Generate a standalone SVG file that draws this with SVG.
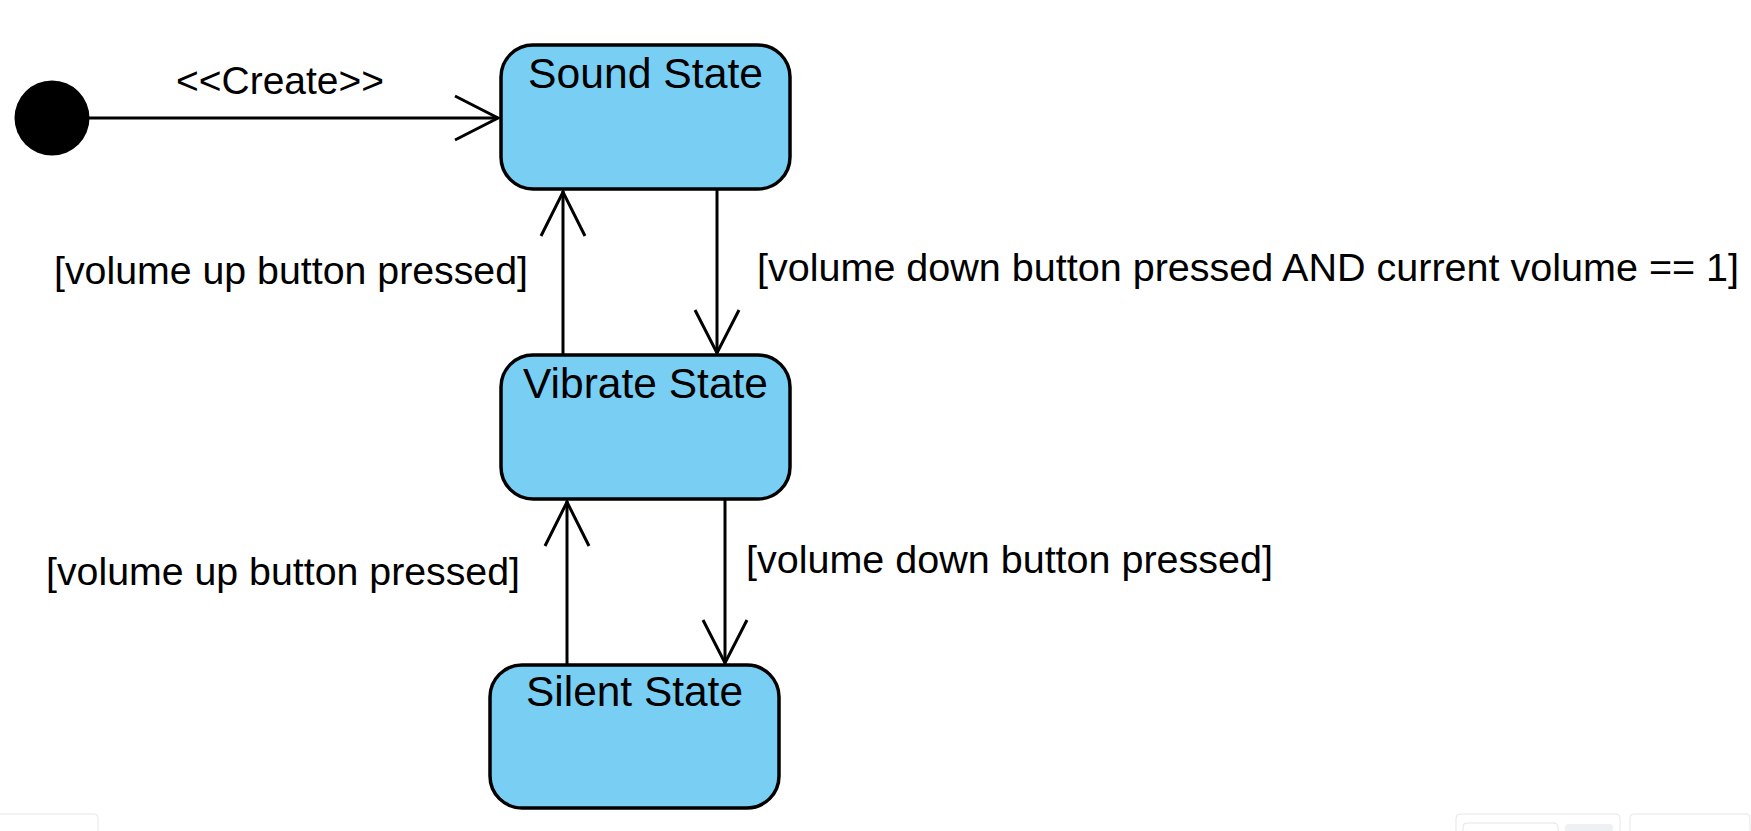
<svg xmlns="http://www.w3.org/2000/svg" width="1751" height="831" viewBox="0 0 1751 831">
<style>
.state{fill:#79CFF3;stroke:#000;stroke-width:3.5}
.name{font-family:"Liberation Sans",Arial,sans-serif;font-size:43px;fill:#000;text-anchor:middle}
.lbl{font-family:"Liberation Sans",Arial,sans-serif;font-size:39px;fill:#000}
.edge{stroke:#000;stroke-width:3;fill:none}
.head{stroke:#000;stroke-width:3;fill:none;stroke-linejoin:miter}
.ui{fill:#fff;stroke:#e6e6e6;stroke-width:1}
</style>
<rect width="1751" height="831" fill="#fff"/>
<g id="initial">
<circle cx="52" cy="118" r="37.5" fill="#000"/>
</g>
<g id="sound">
<rect class="state" x="501" y="45" width="289" height="144" rx="32"/>
<text class="name" x="645.5" y="88" textLength="235" lengthAdjust="spacingAndGlyphs">Sound State</text>
</g>
<g id="vibrate">
<rect class="state" x="501" y="355" width="289" height="144" rx="32"/>
<text class="name" x="645.5" y="398" textLength="245" lengthAdjust="spacingAndGlyphs">Vibrate State</text>
</g>
<g id="silent">
<rect class="state" x="490" y="665" width="289" height="143" rx="32"/>
<text class="name" x="634.5" y="706" textLength="217" lengthAdjust="spacingAndGlyphs">Silent State</text>
</g>
<g id="connectors">
<line class="edge" x1="89" y1="118" x2="498" y2="118"/>
<polyline class="head" points="455,96 498,118 455,140"/>
<text class="lbl" x="176" y="94" textLength="208" lengthAdjust="spacingAndGlyphs">&lt;&lt;Create&gt;&gt;</text>

<line class="edge" x1="717" y1="190" x2="717" y2="353"/>
<polyline class="head" points="695,310 717,353 739,310"/>
<text class="lbl" x="757" y="281" textLength="982" lengthAdjust="spacingAndGlyphs">[volume down button pressed AND current volume == 1]</text>

<line class="edge" x1="563" y1="354" x2="563" y2="191"/>
<polyline class="head" points="541,236 563,192 585,236"/>
<text class="lbl" x="54" y="284" textLength="474" lengthAdjust="spacingAndGlyphs">[volume up button pressed]</text>

<line class="edge" x1="725" y1="500" x2="725" y2="663"/>
<polyline class="head" points="703,620 725,663 747,620"/>
<text class="lbl" x="746" y="573" textLength="527" lengthAdjust="spacingAndGlyphs">[volume down button pressed]</text>

<line class="edge" x1="567" y1="664" x2="567" y2="501"/>
<polyline class="head" points="545,546 567,502 589,546"/>
<text class="lbl" x="46" y="585" textLength="474" lengthAdjust="spacingAndGlyphs">[volume up button pressed]</text>
</g>
<rect class="ui" x="-4" y="814" width="102" height="30" rx="4"/>
<rect class="ui" x="1456" y="814" width="164" height="30" rx="4"/>
<rect class="ui" x="1463" y="823" width="95" height="20" rx="4" stroke="#cfcfcf"/>
<rect x="1565" y="824" width="48" height="10" rx="3" fill="#eef1f4"/>
<rect class="ui" x="1630" y="814" width="120" height="30" rx="4"/>
</svg>
